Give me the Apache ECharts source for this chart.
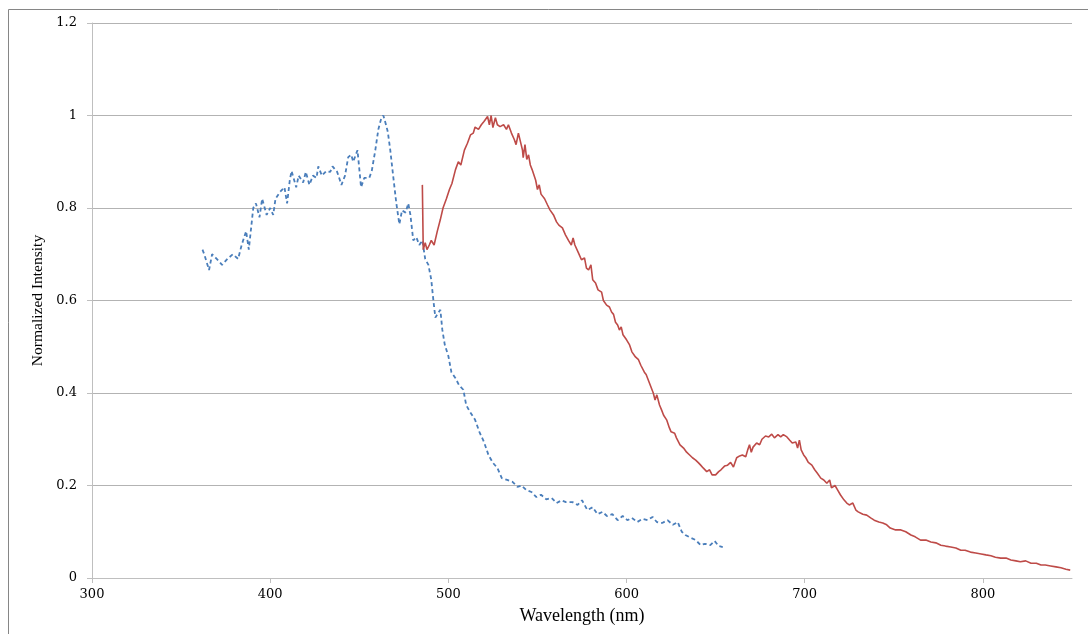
<!DOCTYPE html>
<html>
<head>
<meta charset="utf-8">
<title>Normalized Intensity vs Wavelength</title>
<script src="https://cdn.jsdelivr.net/npm/echarts@6/dist/echarts.min.js"></script>
<style>
  html, body { margin: 0; padding: 0; background: #ffffff; }
  #chart { width: 1088px; height: 634px; }
</style>
</head>
<body>
<div id="chart"></div>
<script>
// Excitation spectrum (dashed blue)
const excitationWavelength = [
  362, 363, 365.7, 367.4, 370, 373, 376, 379, 382, 384, 386.5, 388, 390.5, 392, 394, 395.5, 398, 400, 401.7, 403,
  405.6, 408, 409.5, 411, 412, 414.6, 416, 418.5, 420, 422, 424, 426, 427, 429, 431.5, 433.7, 435, 437.6, 440, 442,
  443.8, 445.5, 446.6, 449, 451, 452.8, 455.6, 457, 459, 460.7, 462.4, 463.5, 465, 466, 467.4, 469, 470.8, 472.5, 474, 476,
  477.5, 478.7, 480.3, 482, 483.7, 485.4, 487, 488.8, 490.4, 491.6, 492.7, 493.8, 495.5, 496.6, 498, 500, 501.7, 504, 506, 508.4,
  510, 512, 515, 517.4, 520, 522.5, 525, 527.5, 530, 533, 536, 538.8, 541, 543.8, 546.6, 549.4, 552, 555, 558, 560.7,
  563.5, 566, 569.7, 572.5, 575, 578, 581, 583.7, 586.5, 589, 592, 595, 597.8, 600.5, 603, 606, 609, 611.8, 614.6, 617,
  620, 623, 626, 628.7, 631, 633, 636, 638.8, 641.6, 644, 647, 649.4, 651.7, 654
];
const excitationIntensity = [
  0.71, 0.70, 0.666, 0.70, 0.69, 0.677, 0.69, 0.70, 0.69, 0.72, 0.75, 0.71, 0.80, 0.81, 0.78, 0.82, 0.785, 0.80, 0.785, 0.82,
  0.835, 0.845, 0.81, 0.86, 0.88, 0.845, 0.87, 0.855, 0.878, 0.85, 0.87, 0.865, 0.89, 0.87, 0.88, 0.878, 0.89, 0.878, 0.85, 0.87,
  0.91, 0.915, 0.90, 0.925, 0.845, 0.865, 0.865, 0.88, 0.925, 0.97, 0.995, 1.0, 0.98, 0.965, 0.925, 0.87, 0.81, 0.765, 0.795, 0.79,
  0.81, 0.785, 0.73, 0.737, 0.72, 0.73, 0.69, 0.677, 0.645, 0.60, 0.563, 0.57, 0.58, 0.537, 0.504, 0.48, 0.445, 0.432, 0.417, 0.407,
  0.374, 0.36, 0.342, 0.316, 0.294, 0.266, 0.249, 0.238, 0.216, 0.212, 0.208, 0.197, 0.20, 0.19, 0.186, 0.175, 0.18, 0.17, 0.173, 0.162,
  0.168, 0.164, 0.164, 0.158, 0.168, 0.147, 0.153, 0.138, 0.143, 0.134, 0.138, 0.125, 0.134, 0.125, 0.13, 0.121, 0.128, 0.125, 0.132, 0.121,
  0.119, 0.125, 0.115, 0.121, 0.10, 0.093, 0.087, 0.082, 0.071, 0.074, 0.071, 0.08, 0.069, 0.067
];

// Emission spectrum (solid red)
const emissionWavelength = [
  485.4, 485.9, 487, 488, 489.3, 490.4, 492, 493.8, 495.5, 497, 498.9, 500.6, 502, 504, 505.6, 507, 509, 510.7, 512.4, 514,
  515, 516.9, 518.5, 520, 522, 523, 524, 525, 526.4, 527.5, 529, 531, 532.6, 533.7, 535.4, 537, 538, 539.3, 540.4, 541.6,
  542, 543, 544, 545, 546, 547, 549, 550, 551, 552, 554, 555.6, 557, 559, 560.7, 562, 564, 565.7, 567.4, 569,
  570, 571, 573, 574.7, 576.4, 577.5, 578.7, 580, 581, 582.6, 584, 586, 587, 588.8, 590.4, 591.6, 592.7, 593.8, 595, 596,
  597, 598, 600, 601.7, 603, 605, 606.7, 608, 610, 611, 613, 614, 615, 616, 617, 618.5, 619.7, 620.8, 622.5, 624,
  625, 627, 628, 629, 630, 632, 633.7, 635.4, 637, 638.8, 640.4, 641.6, 643, 645, 646.6, 648, 650, 651.7, 653, 655,
  656.7, 658.4, 660, 661.8, 663.5, 665, 666.9, 668, 669, 670, 671, 673, 674.7, 676, 678, 679.8, 681.5, 683, 685, 686.5,
  688, 690, 691.6, 693, 695, 696, 697, 698, 699.4, 700.6, 702, 704, 705.6, 707, 709, 710.7, 712.4, 714, 715, 717,
  718.5, 720, 722, 723.6, 725, 727, 728.7, 730, 732.6, 734.8, 737, 739, 741.6, 743.8, 746, 748, 751, 754, 756.7, 759.6,
  762, 765, 768, 770.8, 773.6, 776.4, 779, 782, 784.8, 787.6, 790, 793, 796, 799, 801.7, 804.5, 807, 810, 813, 815.7,
  818.5, 821, 824, 827, 830, 832.6, 835, 838, 841, 843.8, 846.6, 849
];
const emissionIntensity = [
  0.85, 0.71, 0.725, 0.71, 0.72, 0.73, 0.72, 0.75, 0.775, 0.80, 0.82, 0.84, 0.853, 0.883, 0.90, 0.893, 0.925, 0.94, 0.958, 0.962,
  0.975, 0.97, 0.98, 0.987, 0.998, 0.98, 1.0, 0.974, 0.995, 0.98, 0.976, 0.98, 0.97, 0.98, 0.962, 0.948, 0.937, 0.962, 0.965, 0.925,
  0.909, 0.937, 0.905, 0.915, 0.893, 0.883, 0.86, 0.84, 0.85, 0.83, 0.82, 0.807, 0.796, 0.785, 0.77, 0.763, 0.757, 0.742, 0.73, 0.72,
  0.735, 0.72, 0.703, 0.688, 0.692, 0.67, 0.666, 0.677, 0.645, 0.638, 0.623, 0.618, 0.60, 0.59, 0.586, 0.575, 0.57, 0.553, 0.547, 0.536,
  0.543, 0.526, 0.515, 0.504, 0.489, 0.478, 0.472, 0.46, 0.445, 0.44, 0.42, 0.417, 0.40, 0.385, 0.396, 0.374, 0.363, 0.352, 0.342, 0.325,
  0.316, 0.313, 0.303, 0.30, 0.288, 0.281, 0.272, 0.266, 0.26, 0.255, 0.249, 0.244, 0.238, 0.23, 0.234, 0.223, 0.223, 0.23, 0.234, 0.242,
  0.244, 0.25, 0.24, 0.26, 0.264, 0.266, 0.262, 0.277, 0.288, 0.272, 0.283, 0.292, 0.288, 0.30, 0.307, 0.305, 0.311, 0.303, 0.31, 0.305,
  0.31, 0.305, 0.298, 0.292, 0.294, 0.281, 0.298, 0.277, 0.266, 0.26, 0.25, 0.244, 0.234, 0.227, 0.216, 0.212, 0.205, 0.212, 0.195, 0.20,
  0.19, 0.18, 0.169, 0.162, 0.158, 0.162, 0.147, 0.143, 0.138, 0.136, 0.13, 0.125, 0.121, 0.119, 0.115, 0.108, 0.104, 0.104, 0.10, 0.093,
  0.089, 0.082, 0.082, 0.078, 0.076, 0.071, 0.069, 0.067, 0.065, 0.06, 0.06, 0.056, 0.054, 0.052, 0.05, 0.048, 0.045, 0.043, 0.043, 0.039,
  0.037, 0.035, 0.037, 0.032, 0.032, 0.028, 0.028, 0.026, 0.024, 0.022, 0.019, 0.017
];

// Axis tick values
const xTickValues = [300, 400, 500, 600, 700, 800];

const zip = (xs, ys) => xs.map((x, i) => [x, ys[i]]);

const serif = '"Liberation Serif", "DejaVu Serif", serif';
const tickFont = '"DejaVu Serif", serif';
const chart = echarts.init(document.getElementById('chart'), null, { renderer: 'canvas' });

chart.setOption({
  animation: false,
  backgroundColor: '#ffffff',
  graphic: [{
    type: 'rect',
    shape: { x: 8.5, y: 9.5, width: 1200, height: 800 },
    style: { fill: 'none', stroke: '#868686', lineWidth: 1 },
    silent: true,
    z: -10
  }],
  grid: { left: 92, right: 16, top: 23, bottom: 56, containLabel: false },
  xAxis: {
    type: 'value',
    min: 300,
    max: 850,
    interval: 100,
    name: 'Wavelength (nm)',
    nameLocation: 'middle',
    nameGap: 29,
    nameTextStyle: { fontFamily: serif, fontSize: 18, color: '#000000' },
    axisLine: { show: true, lineStyle: { color: '#bfbfbf', width: 1 } },
    axisTick: { show: true, inside: false, length: 5, customValues: xTickValues, lineStyle: { color: '#bfbfbf' } },
    axisLabel: { customValues: xTickValues, margin: 10, fontFamily: tickFont, fontSize: 13, color: '#000000' },
    splitLine: { show: false }
  },
  yAxis: {
    type: 'value',
    min: 0,
    max: 1.2,
    interval: 0.2,
    name: 'Normalized Intensity',
    nameLocation: 'middle',
    nameGap: 42,
    nameTextStyle: { fontFamily: serif, fontSize: 15.5, color: '#000000' },
    axisLine: { show: true, lineStyle: { color: '#bfbfbf', width: 1 } },
    axisTick: { show: true, inside: false, length: 5, lineStyle: { color: '#bfbfbf' } },
    axisLabel: {
      margin: 15,
      fontFamily: tickFont,
      fontSize: 13,
      color: '#000000',
      formatter: v => String(Math.round(v * 10) / 10)
    },
    splitLine: { show: true, lineStyle: { color: '#b3b3b3', width: 1 } }
  },
  series: [
    {
      name: 'Excitation',
      type: 'line',
      data: zip(excitationWavelength, excitationIntensity),
      showSymbol: false,
      smooth: false,
      lineStyle: { color: '#4a7ebb', width: 1.8, type: [4, 3] },
      z: 3
    },
    {
      name: 'Emission',
      type: 'line',
      data: zip(emissionWavelength, emissionIntensity),
      showSymbol: false,
      smooth: false,
      lineStyle: { color: '#be4b48', width: 1.6 },
      z: 4
    }
  ]
});
</script>
</body>
</html>
